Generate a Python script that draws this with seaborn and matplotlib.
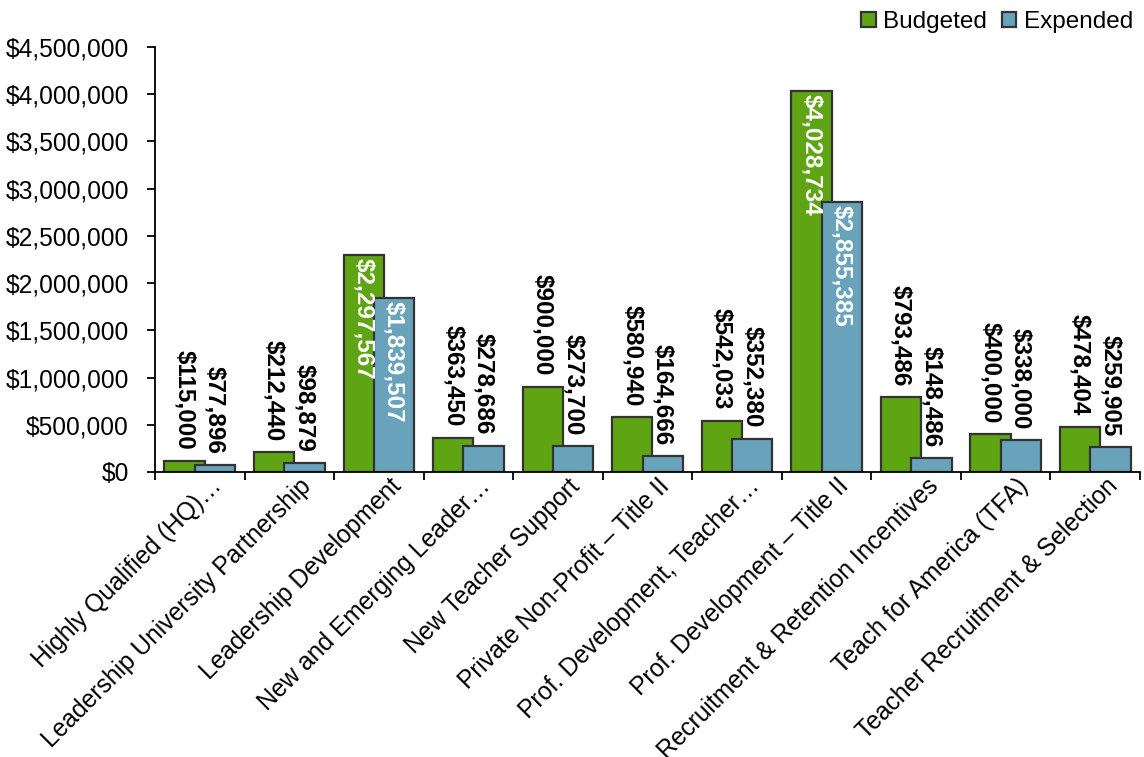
import matplotlib
matplotlib.use("Agg")
import matplotlib.pyplot as plt
import matplotlib.ticker as mticker
import matplotlib.transforms as mtrans
import seaborn as sns
import pandas as pd

categories = [
    "Highly Qualified (HQ)…",
    "Leadership University Partnership",
    "Leadership Development",
    "New and Emerging Leader…",
    "New Teacher Support",
    "Private Non-Profit – Title II",
    "Prof. Development, Teacher…",
    "Prof. Development – Title II",
    "Recruitment & Retention Incentives",
    "Teach for America (TFA)",
    "Teacher Recruitment & Selection",
]
budgeted = [115000, 212440, 2297567, 363450, 900000, 580940,
            542033, 4028734, 793486, 400000, 478404]
expended = [77896, 98879, 1839507, 278686, 273700, 164666,
            352380, 2855385, 148486, 338000, 259905]
series = ["Budgeted", "Expended"]
y_ticks = [0, 500000, 1000000, 1500000, 2000000, 2500000,
           3000000, 3500000, 4000000, 4500000]

sns.set_style("white")
plt.rcParams["font.family"] = ["Liberation Sans", "DejaVu Sans"]
plt.rcParams["text.color"] = "black"
plt.rcParams["xtick.color"] = "black"
plt.rcParams["ytick.color"] = "black"
plt.rcParams["axes.labelcolor"] = "black"

df = pd.DataFrame({
    "category": categories * 2,
    "series": [series[0]] * len(categories) + [series[1]] * len(categories),
    "value": budgeted + expended,
})

colors = {"Budgeted": "#5FA513", "Expended": "#68A3BB"}

fig = plt.figure(figsize=(11.44, 7.57), dpi=100)
ax = fig.add_axes([0.1355, 0.3765, 0.861, 0.5615])

sns.barplot(data=df, x="category", y="value", hue="series",
            hue_order=series, order=categories, palette=colors,
            saturation=1, edgecolor="#333333", linewidth=1.6, width=0.8,
            errorbar=None, ax=ax, legend=True)

# Excel-style overlapping columns: wider bars, slightly overlapped
bar_w = 0.45
offsets = [-0.17, 0.17]
for container, off, vals in zip(ax.containers, offsets, [budgeted, expended]):
    for i, (patch, v) in enumerate(zip(container.patches, vals)):
        patch.set_width(bar_w)
        patch.set_x(i + off - bar_w / 2)
        inside = v > 1500000
        if inside:
            ax.annotate(f"${v:,.0f}", xy=(i + off, v), xytext=(0, -2),
                        textcoords="offset points", rotation=270,
                        ha="center", va="top", fontsize=17.5,
                        fontweight="bold", color="white")
        else:
            ax.annotate(f"${v:,.0f}", xy=(i + off, v), xytext=(0, 8),
                        textcoords="offset points", rotation=270,
                        ha="center", va="bottom", fontsize=17.5,
                        fontweight="bold", color="black")

ax.set_xlim(-0.5, len(categories) - 0.5)
ax.set_ylim(0, 4500000)
ax.set_yticks(y_ticks)
ax.yaxis.set_major_formatter(mticker.FuncFormatter(lambda v, p: f"${v:,.0f}"))
ax.tick_params(axis="y", labelsize=17.7, length=5.8, width=1.3,
               direction="out", left=True, pad=13)

# category boundary ticks on the x axis, labels centered on the groups
ax.set_xticks([i - 0.5 for i in range(len(categories) + 1)])
ax.set_xticklabels([])
ax.set_xticks(range(len(categories)), minor=True)
ax.set_xticklabels(categories, minor=True, rotation=45, ha="right",
                   va="top", rotation_mode="anchor", fontsize=17.7)
ax.tick_params(axis="x", which="major", length=5.8, width=1.3,
               direction="out", bottom=True)
ax.tick_params(axis="x", which="minor", length=0, pad=1.5)
shift = mtrans.ScaledTranslation(10 / 100, 0, fig.dpi_scale_trans)
for lbl in ax.get_xticklabels(minor=True):
    lbl.set_transform(lbl.get_transform() + shift)

ax.set_xlabel("")
ax.set_ylabel("")
sns.despine(ax=ax, top=True, right=True)
for side in ["left", "bottom"]:
    ax.spines[side].set_color("black")
    ax.spines[side].set_linewidth(1.3)

handles, labels = ax.get_legend_handles_labels()
ax.get_legend().remove()
fig.legend(handles, labels, loc="upper right", bbox_to_anchor=(1.003, 1.005),
           ncol=2, frameon=False, fontsize=17.5, handlelength=0.6,
           handleheight=0.6, handletextpad=0.3, columnspacing=0.6,
           borderaxespad=0.2)

fig.savefig("out.png", dpi=100)
